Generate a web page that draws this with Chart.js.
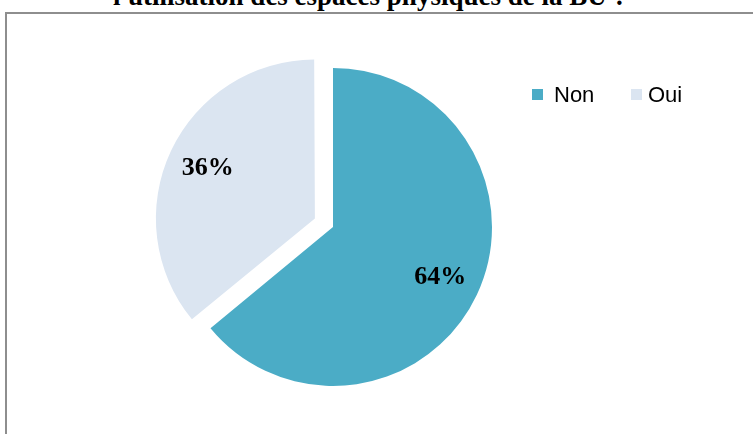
<!DOCTYPE html>
<html>
<head>
<meta charset="utf-8">
<script src="https://cdn.jsdelivr.net/npm/chart.js@4/dist/chart.umd.min.js"></script>
<style>
  html, body { margin: 0; padding: 0; background: #fff; }
  #wrap { position: relative; width: 753px; height: 434px; overflow: hidden; }
  #frame { position: absolute; left: 5px; top: 12px; width: 900px; height: 600px; border: 2px solid #8e8e8e; box-sizing: border-box; }
  #title { position: absolute; left: 0; width: 740px; top: -17px; text-align: center;
           font: bold 27px "Liberation Serif", "Times New Roman", serif; line-height: 27px; color: #000; white-space: nowrap; }
  canvas { position: absolute; left: 0; top: 0; }
</style>
</head>
<body>
<div id="wrap">
  <div id="frame"></div>
  <div id="title">l'utilisation des espaces physiques de la BU ?</div>
  <canvas id="c" width="753" height="434"></canvas>
</div>
<script>
const categories = ["Non", "Oui"];
const values = [64, 36];
const valueLabels = ["64%", "36%"];
const colors = ["#4BACC6", "#DBE5F1"];
const explode = [0, 80];

// keep exploded slices at the same radius as the others (Chart.js grows them slightly)
const radiusFix = {
  id: 'radiusFix',
  afterDatasetUpdate(chart, args) {
    const meta = chart.getDatasetMeta(args.index);
    meta.data.forEach((arc) => {
      const off = (arc.options.offset || 0) / 4;
      if (!off) return;
      const circ = arc.endAngle - arc.startAngle;
      const fix = 1 - Math.sin(Math.min(Math.PI, circ));
      arc.outerRadius = meta.controller.outerRadius - off * fix;
    });
  }
};

const labelPlugin = {
  id: 'sliceLabels',
  afterDatasetsDraw(chart) {
    const ctx = chart.ctx;
    const meta = chart.getDatasetMeta(0);
    const R = meta.controller.outerRadius;
    ctx.save();
    ctx.font = 'bold 26px "Liberation Serif", "Times New Roman", serif';
    ctx.fillStyle = '#000';
    ctx.textAlign = 'center';
    ctx.textBaseline = 'middle';
    meta.data.forEach((arc, i) => {
      const p = arc.getProps(['x', 'y', 'startAngle', 'endAngle'], true);
      const mid = (p.startAngle + p.endAngle) / 2;
      const r = R * 0.745 + (arc.options.offset || 0) / 4;
      ctx.fillText(valueLabels[i], p.x + Math.cos(mid) * r, p.y + Math.sin(mid) * r);
    });
    ctx.restore();
  }
};

const legendPlugin = {
  id: 'customLegend',
  afterDraw(chart) {
    const ctx = chart.ctx;
    const items = [{ box: 532, text: 554 }, { box: 631, text: 648 }];
    ctx.save();
    ctx.font = '22px "Liberation Sans", Arial, sans-serif';
    ctx.textBaseline = 'middle';
    ctx.textAlign = 'left';
    chart.data.labels.forEach((lab, i) => {
      ctx.fillStyle = chart.data.datasets[0].backgroundColor[i];
      ctx.fillRect(items[i].box, 89, 11, 11);
      ctx.fillStyle = '#000';
      ctx.fillText(lab, items[i].text, 96);
    });
    ctx.restore();
  }
};

new Chart(document.getElementById('c'), {
  type: 'pie',
  data: {
    labels: categories,
    datasets: [{
      data: values,
      backgroundColor: colors,
      borderWidth: 0,
      offset: explode,
      radius: 159
    }]
  },
  options: {
    responsive: false,
    animation: false,
    layout: { padding: { left: 0, right: 87, top: 20, bottom: 0 } },
    plugins: {
      legend: { display: false },
      title: { display: false },
      tooltip: { enabled: false }
    }
  },
  plugins: [radiusFix, labelPlugin, legendPlugin]
});
</script>
</body>
</html>
